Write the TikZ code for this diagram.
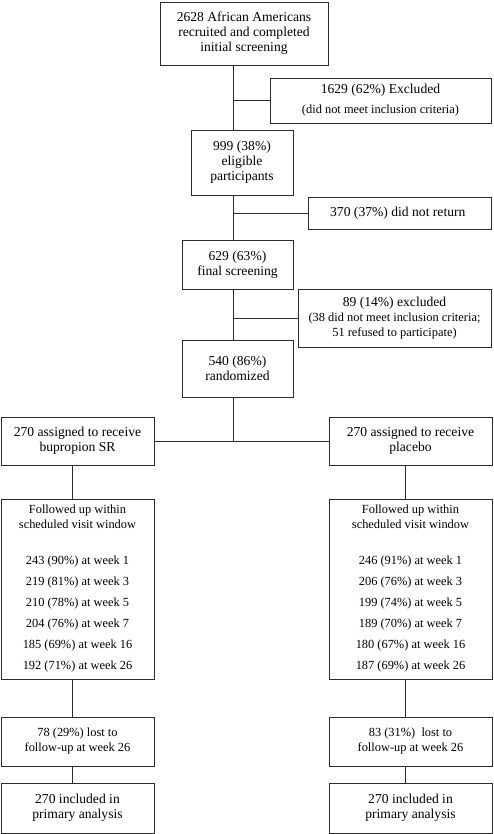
\documentclass[tikz,border=0pt]{standalone}
\usepackage{fontspec}
\setmainfont{Liberation Serif}
\usetikzlibrary{positioning,calc}
\definecolor{lineGray}{RGB}{45,45,45}
\newcommand{\smalltxt}{\fontsize{12.4}{15}\selectfont}

\begin{document}
\begin{tikzpicture}[x=1pt,y=-1pt,
        box/.style={draw=lineGray,line width=0.8pt,align=center,inner sep=2pt,
                    font=\fontsize{13.6}{15}\selectfont},
        smallbox/.style={box,font=\smalltxt},
        link/.style={draw=lineGray,line width=0.8pt}
    ]
    \useasboundingbox (0,0) rectangle (494,834);
    % trunk and the two arm columns
    \coordinate (trunk) at (233,0);
    \coordinate (armL) at (72,0);
    \coordinate (armR) at (405,0);

    \node[box,minimum width=168pt,minimum height=63pt] (screened) at (244,33.5) {
        2628 African Americans\\recruited and completed\\initial screening
    };
    \node[box,minimum width=221pt,minimum height=45pt] (excludedA) at (380.5,100.5) {
        1629 (62\%) Excluded\\[5pt]
        {\smalltxt (did not meet inclusion criteria)}
    };
    \node[box,minimum width=102pt,minimum height=65pt] (eligible) at (242,162.5) {
        999 (38\%)\\eligible\\participants
    };
    \node[box,minimum width=183pt,minimum height=32pt] (noreturn) at (399.5,213) {
        370 (37\%) did not return
    };
    \node[box,minimum width=111pt,minimum height=49pt] (final) at (237.5,264.5) {
        629 (63\%)\\final screening
    };
    \node[box,minimum width=193pt,minimum height=58pt] (excludedB) at (394.5,318) {
        89 (14\%) excluded\\
        {\smalltxt (38 did not meet inclusion criteria;}\\
        {\smalltxt 51 refused to participate)}
    };
    \node[box,minimum width=111pt,minimum height=57pt] (randomized) at (237.5,368.5) {
        540 (86\%)\\randomized
    };

    % study arms
    \node[box,minimum width=153pt,minimum height=48pt] (bupropion) at (77.5,441) {
        270 assigned to receive\\bupropion SR
    };
    \node[box,minimum width=163pt,minimum height=48pt] (placebo) at (410.5,441) {
        270 assigned to receive\\placebo
    };
    \node[smallbox,minimum width=153pt,minimum height=180pt] (followL) at (77.5,589) {
        Followed up within\\scheduled visit window\\[21pt]
        243 (90\%) at week 1\\[6pt]
        219 (81\%) at week 3\\[6pt]
        210 (78\%) at week 5\\[6pt]
        204 (76\%) at week 7\\[6pt]
        185 (69\%) at week 16\\[6pt]
        192 (71\%) at week 26
    };
    \node[smallbox,minimum width=163pt,minimum height=180pt] (followR) at (410.5,589) {
        Followed up within\\scheduled visit window\\[21pt]
        246 (91\%) at week 1\\[6pt]
        206 (76\%) at week 3\\[6pt]
        199 (74\%) at week 5\\[6pt]
        189 (70\%) at week 7\\[6pt]
        180 (67\%) at week 16\\[6pt]
        187 (69\%) at week 26
    };
    \node[smallbox,minimum width=153pt,minimum height=49pt] (lostL) at (77.5,741.5) {
        78 (29\%) lost to\\follow-up at week 26
    };
    \node[smallbox,minimum width=163pt,minimum height=49pt] (lostR) at (410.5,741.5) {
        83 (31\%)~ lost to\\follow-up at week 26
    };
    \node[box,minimum width=153pt,minimum height=50pt] (analysedL) at (77.5,808) {
        270 included in\\primary analysis
    };
    \node[box,minimum width=163pt,minimum height=50pt] (analysedR) at (410.5,808) {
        270 included in\\primary analysis
    };

    % connectors
    \draw[link] (screened.south -| trunk) -- (eligible.north -| trunk);
    \draw[link] (excludedA.west) -- (excludedA.west -| trunk);
    \draw[link] (eligible.south -| trunk) -- (final.north -| trunk);
    \draw[link] (noreturn.west) -- (noreturn.west -| trunk);
    \draw[link] (final.south -| trunk) -- (randomized.north -| trunk);
    \draw[link] (excludedB.west) -- (excludedB.west -| trunk);
    \coordinate (split) at (trunk |- bupropion.east);
    \draw[link] (randomized.south -| trunk) -- (split);
    \draw[link] (bupropion.east) -- (placebo.west);
    \draw[link] (bupropion.south -| armL) -- (followL.north -| armL);
    \draw[link] (placebo.south -| armR) -- (followR.north -| armR);
    \draw[link] (followL.south -| armL) -- (lostL.north -| armL);
    \draw[link] (followR.south -| armR) -- (lostR.north -| armR);
    \draw[link] (lostL.south -| armL) -- (analysedL.north -| armL);
    \draw[link] (lostR.south -| armR) -- (analysedR.north -| armR);
\end{tikzpicture}
\end{document}
